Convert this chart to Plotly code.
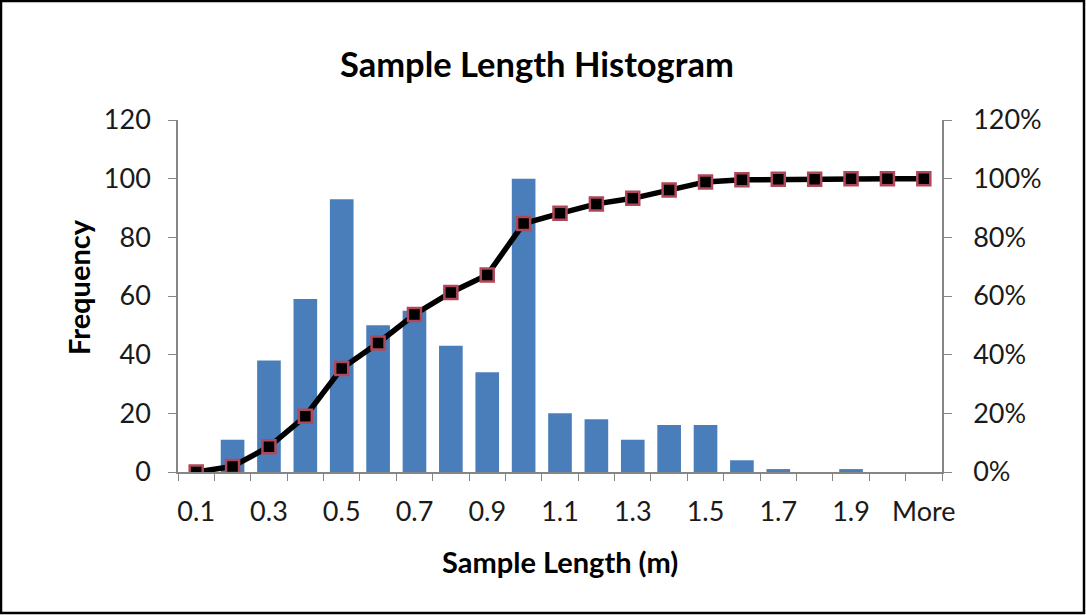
import plotly.graph_objects as go

categories = ["0.1", "0.2", "0.3", "0.4", "0.5", "0.6", "0.7", "0.8", "0.9", "1",
              "1.1", "1.2", "1.3", "1.4", "1.5", "1.6", "1.7", "1.8", "1.9", "2", "More"]
tick_labels = ["0.1", "", "0.3", "", "0.5", "", "0.7", "", "0.9", "",
               "1.1", "", "1.3", "", "1.5", "", "1.7", "", "1.9", "", "More"]
frequency = [0, 11, 38, 59, 93, 50, 55, 43, 34, 100, 20, 18, 11, 16, 16, 4, 1, 0, 1, 0, 0]
cumulative_pct = [0.0, 1.9, 8.6, 19.0, 35.3, 44.0, 53.7, 61.2, 67.2, 84.7, 88.2,
                  91.4, 93.3, 96.1, 98.9, 99.6, 99.8, 99.8, 100.0, 100.0, 100.0]

W, H = 1086, 615
L, R, T, B = 178, 144, 120, 143
PW, PH = W - L - R, H - T - B

def px(x):
    return (x - L) / PW

def py(y):
    return (H - B - y) / PH

FONT = "Lato"
AX = "#868686"

fig = go.Figure()
fig.add_trace(go.Bar(x=categories, y=frequency, marker=dict(color="#4A7EBB", line=dict(width=0)),
                     name="Frequency", yaxis="y"))
fig.add_trace(go.Scatter(x=categories, y=[v / 100 for v in cumulative_pct], yaxis="y2",
                         mode="lines+markers", name="Cumulative %",
                         line=dict(color="black", width=5.5),
                         marker=dict(symbol="square", size=13, color="black",
                                     line=dict(color="#B0485A", width=2.5))))

fig.update_layout(
    width=W, height=H,
    margin=dict(l=L, r=R, t=T, b=B),
    paper_bgcolor="white", plot_bgcolor="white",
    showlegend=False, bargap=0.35,
    font=dict(family=FONT, size=27, color="#1a1a1a"),
    xaxis=dict(type="category", tickvals=categories, ticktext=tick_labels,
               range=[-0.5, len(categories) - 0.5], tickangle=0,
               tickson="boundaries", ticks="outside", ticklen=7, tickcolor=AX,
               showline=True, linecolor=AX, linewidth=1.5, showgrid=False,
               ticklabelstandoff=15, tickfont=dict(size=27)),
    yaxis=dict(range=[0, 120], dtick=20, ticks="outside", ticklen=8, tickcolor=AX,
               showline=True, linecolor=AX, linewidth=1.5, showgrid=False, zeroline=False,
               ticklabelstandoff=12, tickfont=dict(size=27)),
    yaxis2=dict(range=[0, 1.2], dtick=0.2, tickformat=".0%", overlaying="y", side="right",
                ticks="outside", ticklen=8, tickcolor=AX,
                showline=True, linecolor=AX, linewidth=1.5, showgrid=False, zeroline=False,
                ticklabelstandoff=16, tickfont=dict(size=27)),
    annotations=[
        dict(text="<b>Sample Length Histogram</b>", xref="paper", yref="paper",
             x=px(537), y=py(63), xanchor="center", yanchor="middle", showarrow=False,
             font=dict(family=FONT, size=34.5, color="black")),
        dict(text="<b>Sample Length (m)</b>", xref="paper", yref="paper",
             x=px(560), y=py(561), xanchor="center", yanchor="middle", showarrow=False,
             font=dict(family=FONT, size=29, color="black")),
        dict(text="<b>Frequency</b>", xref="paper", yref="paper", textangle=-90,
             x=px(78), y=py(287), xanchor="center", yanchor="middle", showarrow=False,
             font=dict(family=FONT, size=29, color="black")),
    ],
    shapes=[dict(type="rect", xref="paper", yref="paper",
                 x0=px(1), x1=px(W - 2), y0=py(H - 2), y1=py(1),
                 line=dict(color="black", width=2.5), fillcolor="rgba(0,0,0,0)", layer="above")],
)

fig.write_html("out.html")
